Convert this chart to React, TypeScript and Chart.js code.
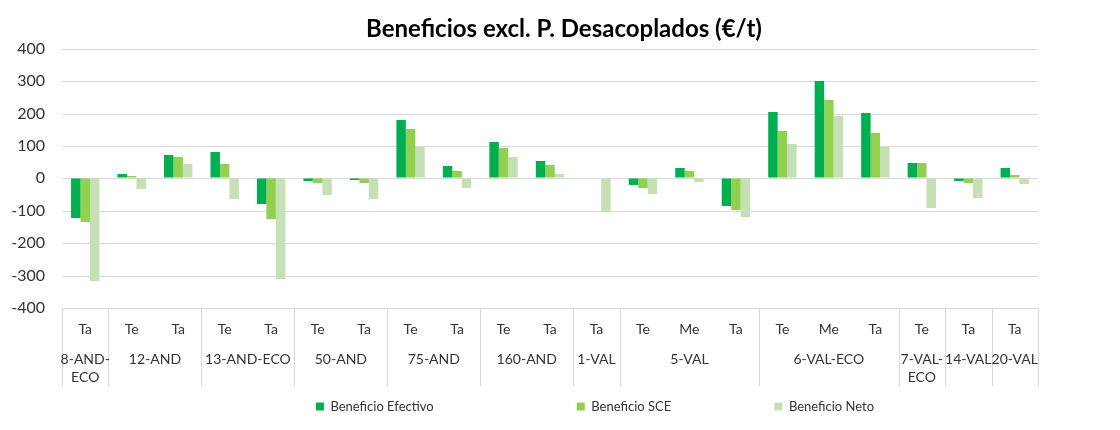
import React, { useEffect, useRef } from "react";
import { Chart, registerables } from "chart.js";

Chart.register(...registerables);

// ---- data ----
const subCategories = ["Ta", "Te", "Ta", "Te", "Ta", "Te", "Ta", "Te", "Ta", "Te", "Ta", "Ta", "Te", "Me", "Ta", "Te", "Me", "Ta", "Te", "Ta", "Ta"];
const groupNames = [["8-AND-", "ECO"], ["12-AND"], ["13-AND-ECO"], ["50-AND"], ["75-AND"], ["160-AND"], ["1-VAL"], ["5-VAL"], ["6-VAL-ECO"], ["7-VAL-", "ECO"], ["14-VAL"], ["20-VAL"]];
const groupSizes = [1, 2, 2, 2, 2, 2, 1, 3, 3, 1, 1, 1];
const seriesNames = ["Beneficio Efectivo", "Beneficio SCE", "Beneficio Neto"];
const beneficioEfectivo = [-123, 15, 72, 80, -78, -8, -4, 179, 37, 112, 53, 0, -21, 33, -84, 206, 300, 202, 48, -7, 31];
const beneficioSCE = [-135, 6, 67, 45, -125, -13, -13, 153, 23, 95, 42, 0, -30, 22, -98, 147, 241, 139, 48, -14, 10];
const beneficioNeto = [-317, -33, 45, -64, -310, -51, -65, 97, -31, 67, 13, -103, -49, -10, -120, 106, 193, 97, -91, -60, -16];
const yMin = -400;
const yMax = 400;
const yStep = 100;
const chartTitle = "Beneficios excl. P. Desacoplados (€/t)";

// ---- styles ----
const FONT = "Lato, 'Open Sans', sans-serif";
const GRID = "#d9d9d9";
const TEXT = "#333333";
const COLORS = ["#00B050", "#92D050", "#C5E0B4"];
const SEP_DEPTH = 78;
const GROUP_LINE1 = 51;
const GROUP_LINE_H = 18;
const LEGEND_SHIFT = 31;
const LEGEND_SLOTS = [262, 197];
const LEGEND_FONT = 13;

const groupAxisPlugin = {
  id: "groupAxis",
  afterDraw(chart: any) {
    const x = chart.scales.x;
    const ctx = chart.ctx as CanvasRenderingContext2D;
    const n = subCategories.length;
    const w = (x.right - x.left) / n;
    const top = chart.chartArea.bottom;
    ctx.save();
    ctx.strokeStyle = GRID;
    ctx.lineWidth = 1;
    const edges = [0];
    let acc = 0;
    groupSizes.forEach((s) => {
      acc += s;
      edges.push(acc);
    });
    edges.forEach((i) => {
      const px = Math.round(x.getPixelForValue(i) - w / 2) + 0.5;
      ctx.beginPath();
      ctx.moveTo(px, top);
      ctx.lineTo(px, top + SEP_DEPTH);
      ctx.stroke();
    });
    ctx.fillStyle = TEXT;
    ctx.font = `14px ${FONT}`;
    ctx.textAlign = "center";
    ctx.textBaseline = "middle";
    groupNames.forEach((lines, g) => {
      const a = edges[g];
      const b = edges[g + 1] - 1;
      const cx = (x.getPixelForValue(a) + x.getPixelForValue(b)) / 2;
      lines.forEach((t, k) => {
        ctx.fillText(t, cx, top + GROUP_LINE1 + k * GROUP_LINE_H);
      });
    });
    ctx.restore();
  },
};

const legendShiftPlugin = {
  id: "legendShift",
  afterLayout(chart: any) {
    const l = chart.legend;
    if (l) {
      l.left += LEGEND_SHIFT;
      l.right += LEGEND_SHIFT;
    }
  },
};

export default function App() {
  const ref = useRef<HTMLCanvasElement>(null);

  useEffect(() => {
    const datasets = [beneficioEfectivo, beneficioSCE, beneficioNeto].map((d, i) => ({
      label: seriesNames[i],
      data: d,
      backgroundColor: COLORS[i],
      borderWidth: 0,
      yAxisID: "y",
      categoryPercentage: 0.61,
      barPercentage: 1.0,
    }));

    const chart = new Chart(ref.current!, {
      type: "bar",
      data: { labels: subCategories, datasets },
      plugins: [groupAxisPlugin, legendShiftPlugin],
      options: {
        animation: false,
        responsive: true,
        maintainAspectRatio: false,
        layout: { padding: { top: 0, left: 0, right: 0, bottom: 7 } },
        scales: {
          x: {
            type: "category",
            offset: true,
            grid: { display: false },
            border: { display: false },
            ticks: {
              autoSkip: false,
              maxRotation: 0,
              padding: 5,
              color: TEXT,
              font: { family: FONT, size: 14 },
            },
            afterFit: (s: any) => {
              s.height = 82;
            },
          },
          y: {
            type: "linear",
            position: "left",
            min: yMin,
            max: yMax,
            alignToPixels: true,
            ticks: {
              stepSize: yStep,
              padding: 17,
              color: TEXT,
              font: { family: FONT, size: 16 },
            },
            grid: { color: GRID, lineWidth: 1, drawTicks: false },
            border: { display: false },
            afterFit: (s: any) => {
              s.width = 54;
            },
          },
          y2: {
            type: "linear",
            position: "right",
            display: true,
            grid: { display: false },
            border: { display: false },
            ticks: { display: false },
            afterFit: (s: any) => {
              s.width = 82;
            },
          },
        },
        plugins: {
          title: {
            display: true,
            text: chartTitle,
            color: "#000000",
            font: { family: FONT, size: 24, weight: "bold", lineHeight: 1.2 },
            padding: { top: 10, bottom: 5 },
          },
          legend: {
            position: "bottom",
            labels: {
              boxWidth: 8,
              boxHeight: 8,
              padding: 10,
              color: TEXT,
              font: { family: FONT, size: LEGEND_FONT },
              generateLabels: (c: any) => {
                const items = Chart.defaults.plugins.legend.labels.generateLabels(c);
                const ctx = c.ctx as CanvasRenderingContext2D;
                ctx.save();
                ctx.font = `${LEGEND_FONT}px ${FONT}`;
                const sp = ctx.measureText(" ").width || 3;
                items.forEach((it: any, i: number) => {
                  if (i < LEGEND_SLOTS.length) {
                    const base = 8 + LEGEND_FONT / 2 + ctx.measureText(it.text).width + 10;
                    const k = Math.max(0, Math.round((LEGEND_SLOTS[i] - base) / sp));
                    it.text = it.text + " ".repeat(k);
                  }
                });
                ctx.restore();
                return items;
              },
            },
          },
          tooltip: { enabled: false },
        },
      },
    } as any);
    return () => chart.destroy();
  }, []);

  return (
    <div
      style={{
        marginTop: -4,
        marginLeft: -1,
        marginBottom: -8,
        width: 1113,
        height: 426,
        boxSizing: "border-box",
        borderTop: "1px solid #d9d9d9",
        borderLeft: "1px solid #d9d9d9",
        background: "#ffffff",
      }}
    >
      <div style={{ position: "relative", width: 1112, height: 425 }}>
        <canvas ref={ref} />
      </div>
    </div>
  );
}
